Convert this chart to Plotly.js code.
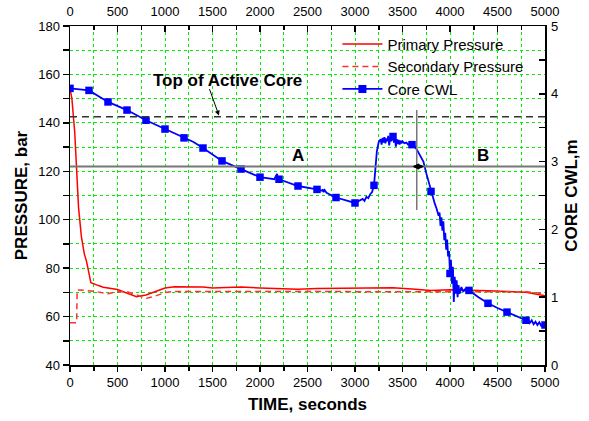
<!DOCTYPE html>
<html>
<head>
<meta charset="utf-8">
<script src="https://cdn.plot.ly/plotly-3.0.1.min.js"></script>
<style>html,body{margin:0;padding:0;background:#fff;}#chart{width:589px;height:421px;}</style>
</head>
<body>
<div id="chart"></div>
<script>
// ---- Data ----
const primaryTime = [0,20,50,70,90,120,150,175,220,300,350,500,600,700,800,900,1000,1100,1400,1500,1700,1800,2000,2200,2400,2600,2800,3000,3200,3400,3600,3800,4000,4200,4400,4600,4800,4900,5000];
const primaryPressure = [154,150,136,122,105,93,86,82.6,74,72.8,72.1,71.2,69.6,68.2,68.9,70.2,71.8,72.3,72.2,71.8,71.9,72.2,71.8,71.5,71.3,71.6,71.6,71.9,71.8,71.9,71.4,70.8,71.1,71.0,70.7,70.4,70.0,69.3,68.6];

const secondaryTime = [0,70,75,100,250,400,500,600,700,800,900,1000,1100,2000,3000,4000,4800,5000];
const secondaryPressure = [57.5,57.5,71,71,70.5,69.4,70.3,70.3,69.0,67.5,68.5,69.9,70.4,70.4,70.4,70.4,70.2,69.5];

const cwlTime = [0,200,400,600,800,1000,1200,1300,1400,1600,1800,2000,2150,2180,2190,2200,2400,2500,2600,2650,2660,2670,2680,2700,2800,3000,3050,3080,3100,3120,3140,3160,3180,3200,3215,3230,3250,3270,3280,3290,3300,3310,3320,3330,3340,3350,3360,3370,3380,3400,3410,3420,3430,3440,3450,3460,3470,3480,3490,3500,3520,3540,3560,3580,3600,3620,3650,3680,3700,3720,3750,3770,3800,3820,3840,3860,3880,3890,3900,3910,3920,3930,3940,3950,3960,3970,3980,3990,4000,4010,4020,4030,4040,4050,4060,4070,4080,4090,4100,4120,4140,4160,4200,4300,4400,4500,4600,4700,4750,4800,4820,4840,4860,4880,4900,4920,4940,4960,4980,5000];
const cwlLevel = [4.08,4.05,3.88,3.76,3.61,3.48,3.35,3.29,3.20,3.01,2.89,2.77,2.74,2.82,2.72,2.74,2.64,2.62,2.59,2.57,2.59,2.55,2.58,2.54,2.47,2.39,2.42,2.45,2.42,2.48,2.46,2.52,2.55,2.65,2.90,3.15,3.29,3.33,3.25,3.35,3.28,3.36,3.27,3.34,3.30,3.38,3.24,3.36,3.30,3.37,3.28,3.36,3.22,3.33,3.26,3.32,3.25,3.31,3.27,3.30,3.27,3.28,3.25,3.26,3.25,3.24,3.18,3.10,3.03,3.00,2.83,2.72,2.56,2.48,2.38,2.30,2.20,2.25,2.05,2.18,1.98,2.12,1.84,1.95,1.70,1.85,1.60,1.68,1.35,1.55,1.20,1.45,0.93,1.30,1.05,1.25,1.00,1.18,1.05,1.15,1.08,1.12,1.10,1.00,0.91,0.84,0.78,0.72,0.70,0.66,0.68,0.62,0.66,0.60,0.64,0.59,0.63,0.58,0.61,0.59];

const markTime = [0,200,400,600,800,1000,1200,1400,1600,1800,2000,2200,2400,2600,2800,3000,3200,3400,3600,3800,4000,4200,4400,4600,4800,5000];
const markLevel = [4.08,4.05,3.88,3.76,3.61,3.48,3.35,3.20,3.01,2.89,2.77,2.74,2.64,2.59,2.47,2.39,2.65,3.37,3.25,2.56,1.35,1.10,0.91,0.78,0.66,0.59];

const xTicks = [0,500,1000,1500,2000,2500,3000,3500,4000,4500,5000];
const topOfCore = 142.5;     // bar (dashed line)
const splitLevel = 122;      // bar (gray line)
const splitTime = 3650;      // s (vertical gray line)

const FONT = 'Liberation Sans, Arial, sans-serif';
const BLUE = '#0000ff';
const GRID = '#00ee00';

const traces = [
  {x: primaryTime, y: primaryPressure, type: 'scatter', mode: 'lines', name: 'Primary Pressure',
   line: {color: '#ff0000', width: 1.5}, xaxis: 'x', yaxis: 'y'},
  {x: secondaryTime, y: secondaryPressure, type: 'scatter', mode: 'lines', name: 'Secondary Pressure',
   line: {color: '#ff3030', width: 1.5, dash: '6px,4px'}, xaxis: 'x', yaxis: 'y'},
  {x: cwlTime, y: cwlLevel, type: 'scatter', mode: 'lines', name: 'Core CWL', showlegend: false,
   line: {color: BLUE, width: 1.8}, xaxis: 'x', yaxis: 'y2'},
  {x: markTime, y: markLevel, type: 'scatter', mode: 'markers', name: 'Core CWL', showlegend: false,
   marker: {color: BLUE, symbol: 'square', size: 7.5}, xaxis: 'x', yaxis: 'y2'},
  {x: [null], y: [null], type: 'scatter', mode: 'lines+markers', name: 'Core CWL',
   line: {color: BLUE, width: 1.8}, marker: {color: BLUE, symbol: 'square', size: 8}, xaxis: 'x2', yaxis: 'y2'}
];

const axisBase = {
  showline: true, linecolor: '#000', linewidth: 1.5, zeroline: false,
  tickfont: {family: FONT, size: 13, color: '#000'}, tickcolor: '#000', tickwidth: 1.5
};

const layout = {
  width: 589, height: 421,
  margin: {l: 70, r: 44, t: 26, b: 56},
  paper_bgcolor: '#fff', plot_bgcolor: '#fff',
  font: {family: FONT, color: '#000'},
  showlegend: true,
  legend: {x: 0.563, y: 0.995, xanchor: 'left', yanchor: 'top', bgcolor: 'rgba(0,0,0,0)',
           font: {family: FONT, size: 15, color: '#000'}, tracegroupgap: 0, itemwidth: 40},
  xaxis: Object.assign({}, axisBase, {
    range: [0, 5000], tickvals: xTicks, ticks: 'outside', ticklen: 5,
    showgrid: true, gridcolor: GRID, griddash: 'dot', gridwidth: 1,
    minor: {dtick: 250, tick0: 0, ticks: 'outside', ticklen: 4, tickcolor: '#000', tickwidth: 1.5,
            showgrid: true, gridcolor: GRID, griddash: 'dot', gridwidth: 1},
    title: {text: '<b>TIME, seconds</b>', font: {family: FONT, size: 17}, standoff: 9}
  }),
  xaxis2: Object.assign({}, axisBase, {
    overlaying: 'x', side: 'top', anchor: 'y', range: [0, 5000], tickvals: xTicks,
    ticks: 'inside', ticklen: 6, showgrid: false, ticklabelstandoff: 3,
    minor: {dtick: 250, tick0: 0, ticks: 'inside', ticklen: 4, tickcolor: '#000', tickwidth: 1.5, showgrid: false}
  }),
  yaxis: Object.assign({}, axisBase, {
    range: [40, 180], dtick: 20, tick0: 40, ticks: 'outside', ticklen: 6,
    showgrid: true, gridcolor: GRID, griddash: 'dot', gridwidth: 1,
    minor: {dtick: 10, tick0: 40, ticks: 'outside', ticklen: 6, tickcolor: '#000', tickwidth: 1.5,
            showgrid: true, gridcolor: GRID, griddash: 'dot', gridwidth: 1},
    title: {text: '<b>PRESSURE, bar</b>', font: {family: FONT, size: 17}, standoff: 6}
  }),
  yaxis2: Object.assign({}, axisBase, {
    overlaying: 'y', side: 'right', anchor: 'x', range: [0, 5], dtick: 1, tick0: 0,
    ticks: 'inside', ticklen: 6, showgrid: false, ticklabelstandoff: 2,
    minor: {dtick: 0.5, tick0: 0, ticks: 'inside', ticklen: 6, tickcolor: '#000', tickwidth: 1.5, showgrid: false},
    title: {text: '<b>CORE CWL,m</b>', font: {family: FONT, size: 17}, standoff: 8}
  }),
  shapes: [
    {type: 'line', xref: 'x', yref: 'y', x0: 0, x1: 5000, y0: topOfCore, y1: topOfCore,
     line: {color: '#333', width: 1.5, dash: '7px,5px'}, layer: 'above'},
    {type: 'line', xref: 'x', yref: 'y', x0: 0, x1: 5000, y0: splitLevel, y1: splitLevel,
     line: {color: '#777', width: 2}, layer: 'above'},
    {type: 'line', xref: 'x', yref: 'y', x0: splitTime, x1: splitTime, y0: 104, y1: 145.3,
     line: {color: '#777', width: 1.5}, layer: 'above'}
  ],
  annotations: [
    {xref: 'x', yref: 'y', x: 1653, y: 157.7, text: '<b>Top of Active Core</b>', showarrow: false,
     font: {family: FONT, size: 17, color: '#000'}},
    {xref: 'x', yref: 'y', x: 1568, y: topOfCore + 0.5, ax: -10, ay: -28, text: '', showarrow: true,
     arrowhead: 2, arrowsize: 1, arrowwidth: 1, arrowcolor: '#000'},
    {xref: 'x', yref: 'y', x: 2400, y: 126.7, text: '<b>A</b>', showarrow: false,
     font: {family: FONT, size: 17, color: '#000'}},
    {xref: 'x', yref: 'y', x: 4344, y: 126.7, text: '<b>B</b>', showarrow: false,
     font: {family: FONT, size: 17, color: '#000'}},
    {xref: 'x', yref: 'y', x: 3726, y: splitLevel, ax: -13, ay: 0, text: '', showarrow: true,
     arrowhead: 2, arrowsize: 0.6, arrowwidth: 2, arrowcolor: '#000', arrowside: 'end+start'}
  ]
};

Plotly.newPlot('chart', traces, layout, {displayModeBar: false, staticPlot: true});
</script>
</body>
</html>
